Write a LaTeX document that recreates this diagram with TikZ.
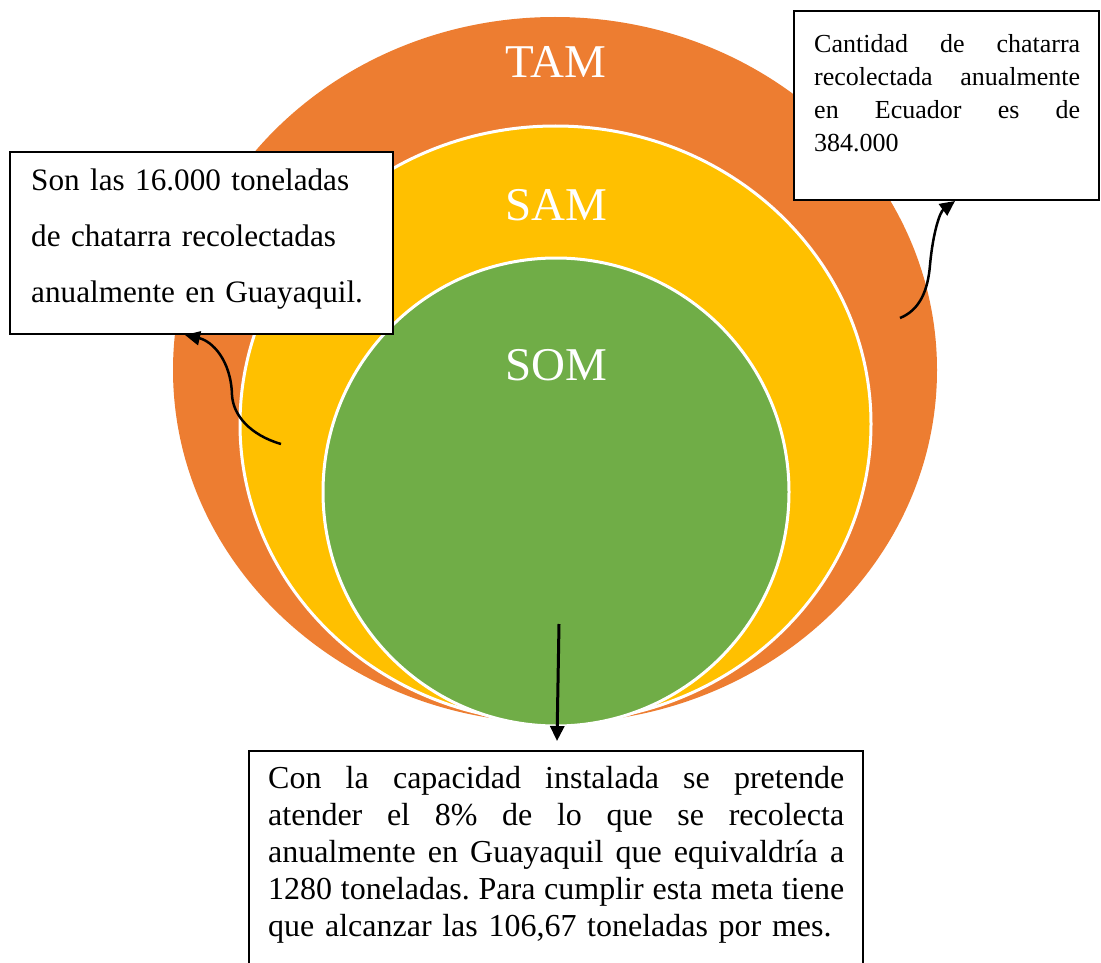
\documentclass[tikz,border=0pt]{standalone}
\usepackage{fontspec}
\setmainfont{Liberation Serif}
\usetikzlibrary{shapes.geometric,arrows.meta}
\definecolor{tamc}{HTML}{ED7D31}
\definecolor{samc}{HTML}{FFC000}
\definecolor{somc}{HTML}{70AD47}
\newcommand\jline[2]{\leavevmode\hbox to #1{\spaceskip=0.25em plus 1fil minus 0.1em\relax\frenchspacing #2}}
\begin{document}
\begin{tikzpicture}[x=1pt,y=-1pt,
  ring/.style={ellipse, inner sep=0pt, draw=white, line width=3pt},
  lbl/.style={anchor=base, text=white, inner sep=0pt, font=\fontsize{47}{50}\selectfont},
  box/.style={draw=black, fill=white, line width=2pt, anchor=north west, inner sep=0pt},
  txt/.style={anchor=base west, inner sep=0pt, align=left},
  con/.style={draw=black, line width=2.5pt, -{Triangle[length=15pt,width=14pt]}}]
\useasboundingbox[fill=white] (0,0) rectangle (1101,963);
% circles
\node[ellipse, inner sep=0pt, fill=tamc, minimum width=764pt, minimum height=706pt] (tam) at (555,370) {};
\node[ring, fill=samc, minimum width=631pt, minimum height=596pt] (sam) at (555.5,424) {};
\node[ring, fill=somc, minimum width=466pt, minimum height=468pt] (som) at (556,492) {};
\node[lbl] (tamlbl) at (556,78) {TAM};
\node[lbl] (samlbl) at (556,221) {SAM};
\node[lbl] (somlbl) at (556,380) {SOM};
% boxes
\node[box, minimum width=383pt, minimum height=182pt] (L) at (9,151) {};
\node[box, minimum width=305pt, minimum height=189pt] (R) at (793,10) {};
\node[box, minimum width=614pt, minimum height=240pt] (B) at (248,750) {};
% texts
\node[txt, text width=360pt, font=\fontsize{31.2}{56}\selectfont] (Lt) at (31,190)
  {Son las 16.000 toneladas\\de chatarra recolectadas\\anualmente en Guayaquil.};
\node[txt, text width=266pt, font=\fontsize{26}{33}\selectfont] (Rt) at (814,53)
  {\jline{266pt}{Cantidad de chatarra}\\\jline{266pt}{recolectada anualmente}\\\jline{266pt}{en Ecuador es de}\\384.000};
\node[txt, text width=576pt, font=\fontsize{32}{37}\selectfont] (Bt) at (268,788)
  {\jline{576pt}{Con la capacidad instalada se pretende}\\\jline{576pt}{atender el 8\% de lo que se recolecta}\\\jline{576pt}{anualmente en Guayaquil que equivaldría a}\\\jline{576pt}{1280 toneladas. Para cumplir esta meta tiene}\\que alcanzar las 106,67 toneladas por mes.};
% connectors
\coordinate (ls) at (281,444);
\coordinate (rs) at (900,318);
\coordinate (bs) at (559,624);
\draw[con] (ls) .. controls (250,435) and (233,415) .. (232,395)
  .. controls (231,360) and (212,341) .. ([xshift=176pt]L.south west);
\draw[con] (rs) .. controls (920,310) and (928,290) .. (930,265)
  .. controls (933,232) and (940,212) .. ([xshift=162pt]R.south west);
\draw[con, line width=3pt] (bs) -- ([xshift=309pt,yshift=9pt]B.north west);
\end{tikzpicture}
\end{document}
